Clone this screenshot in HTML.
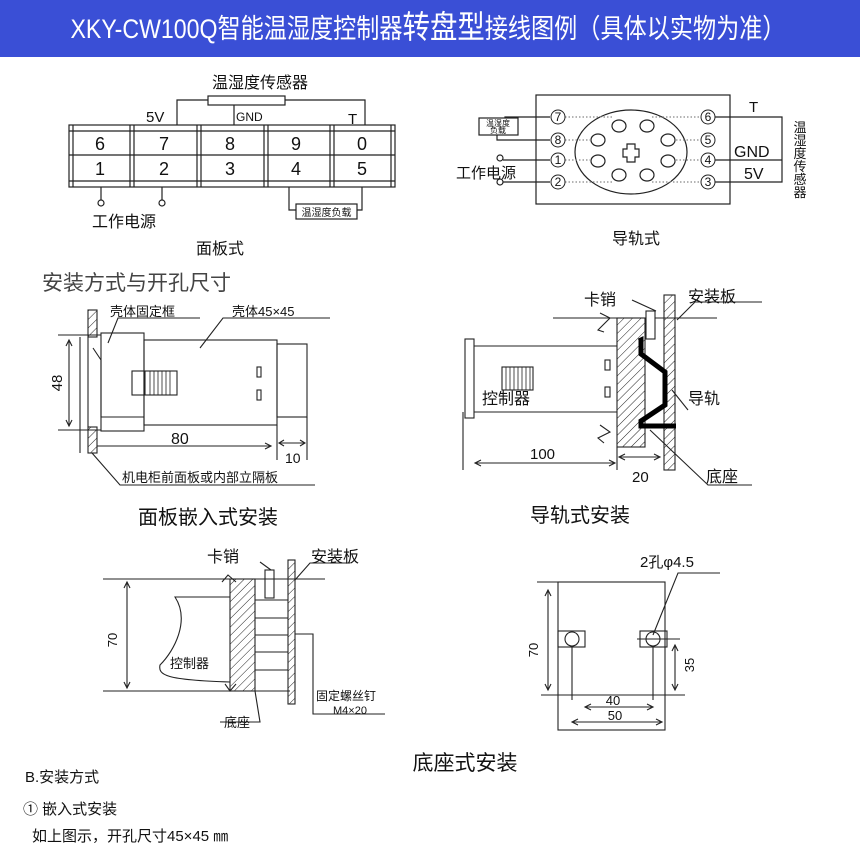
<!DOCTYPE html>
<html><head><meta charset="utf-8"><style>
html,body{margin:0;padding:0;background:#fff}
svg{display:block}
text{font-family:"Liberation Sans","Noto Sans CJK SC",sans-serif;fill:#111}
</style></head><body>
<svg width="860" height="859" viewBox="0 0 860 859" xmlns="http://www.w3.org/2000/svg">
<defs>
<pattern id="h" width="6" height="6" patternUnits="userSpaceOnUse" patternTransform="rotate(45)"><line x1="0" y1="0" x2="0" y2="6" stroke="#222" stroke-width="1"/></pattern>
</defs>
<rect x="0" y="0" width="860" height="57" fill="#3a4fd6"/>
<text x="428" y="38" text-anchor="middle" font-size="27" style="fill:#fff" textLength="715" lengthAdjust="spacingAndGlyphs">XKY-CW100Q智能温湿度控制器<tspan font-size="32">转盘型</tspan>接线图例（具体以实物为准）</text>

<g stroke="#222" fill="none" stroke-width="1.2">
<rect x="69" y="125" width="326" height="62"/>
<line x1="69" y1="131" x2="395" y2="131"/><line x1="69" y1="155" x2="395" y2="155"/><line x1="69" y1="181" x2="395" y2="181"/>
<line x1="73" y1="125" x2="73" y2="187"/><line x1="391" y1="125" x2="391" y2="187"/>
<line x1="130" y1="125" x2="130" y2="187"/><line x1="134" y1="125" x2="134" y2="187"/>
<line x1="197" y1="125" x2="197" y2="187"/><line x1="201" y1="125" x2="201" y2="187"/>
<line x1="264" y1="125" x2="264" y2="187"/><line x1="268" y1="125" x2="268" y2="187"/>
<line x1="330" y1="125" x2="330" y2="187"/><line x1="334" y1="125" x2="334" y2="187"/>
<rect x="208" y="96" width="77" height="9"/>
<polyline points="208,100 177,100 177,125"/><polyline points="285,100 365,100 365,125"/>
<line x1="234" y1="105" x2="234" y2="125"/>
<line x1="101" y1="187" x2="101" y2="200"/><circle cx="101" cy="203" r="3"/>
<line x1="162" y1="187" x2="162" y2="200"/><circle cx="162" cy="203" r="3"/>
<polyline points="289,187 289,210 296,210"/><polyline points="362,187 362,210 357,210"/>
<rect x="296" y="204" width="61" height="15"/>

<rect x="536" y="95" width="194" height="109"/>
<ellipse cx="631" cy="152" rx="56" ry="42"/>
<g>
<ellipse cx="619" cy="126" rx="7" ry="6"/><ellipse cx="647" cy="126" rx="7" ry="6"/>
<ellipse cx="598" cy="140" rx="7" ry="6"/><ellipse cx="668" cy="140" rx="7" ry="6"/>
<ellipse cx="598" cy="161" rx="7" ry="6"/><ellipse cx="668" cy="161" rx="7" ry="6"/>
<ellipse cx="619" cy="175" rx="7" ry="6"/><ellipse cx="647" cy="175" rx="7" ry="6"/>
<path d="M627,144 h8 v5 h4 v8 h-4 v5 h-8 v-5 h-4 v-8 h4 z"/>
</g>
<g stroke-dasharray="1.5,2" stroke="#888">
<line x1="565" y1="117" x2="612" y2="117"/><line x1="565" y1="140" x2="590" y2="140"/>
<line x1="565" y1="160" x2="590" y2="160"/><line x1="565" y1="182" x2="612" y2="182"/>
<line x1="652" y1="117" x2="701" y2="117"/><line x1="676" y1="140" x2="701" y2="140"/>
<line x1="676" y1="160" x2="701" y2="160"/><line x1="652" y1="182" x2="701" y2="182"/>
</g>
<polyline points="715,117 782,117 782,182 715,182"/><line x1="715" y1="160" x2="782" y2="160"/>
<rect x="479" y="118" width="39" height="17"/>
<polyline points="550,117 505,117 505,118"/><polyline points="550,140 497,140 497,135"/>
<circle cx="500" cy="158" r="3"/><circle cx="500" cy="182" r="3"/>
<line x1="503" y1="160" x2="550" y2="160"/><line x1="503" y1="182" x2="550" y2="182"/>
</g>
<g font-size="12" text-anchor="middle" fill="#111">
<circle cx="558" cy="117" r="7" fill="#fff" stroke="#222"/><text x="558" y="121">7</text>
<circle cx="558" cy="140" r="7" fill="#fff" stroke="#222"/><text x="558" y="144">8</text>
<circle cx="558" cy="160" r="7" fill="#fff" stroke="#222"/><text x="558" y="164">1</text>
<circle cx="558" cy="182" r="7" fill="#fff" stroke="#222"/><text x="558" y="186">2</text>
<circle cx="708" cy="117" r="7" fill="#fff" stroke="#222"/><text x="708" y="121">6</text>
<circle cx="708" cy="140" r="7" fill="#fff" stroke="#222"/><text x="708" y="144">5</text>
<circle cx="708" cy="160" r="7" fill="#fff" stroke="#222"/><text x="708" y="164">4</text>
<circle cx="708" cy="182" r="7" fill="#fff" stroke="#222"/><text x="708" y="186">3</text>
</g>
<g font-size="18" text-anchor="middle">
<text x="100" y="150">6</text><text x="164" y="150">7</text><text x="230" y="150">8</text><text x="296" y="150">9</text><text x="362" y="150">0</text>
<text x="100" y="175">1</text><text x="164" y="175">2</text><text x="230" y="175">3</text><text x="296" y="175">4</text><text x="362" y="175">5</text>
</g>
<text x="260" y="88" font-size="16" text-anchor="middle">温湿度传感器</text>
<text x="146" y="122" font-size="15">5V</text>
<text x="236" y="121" font-size="12">GND</text>
<text x="348" y="124" font-size="15">T</text>
<text x="92" y="227" font-size="16">工作电源</text>
<text x="326.5" y="216" font-size="10" text-anchor="middle">温湿度负载</text>
<text x="220" y="254" font-size="16" text-anchor="middle">面板式</text>
<text x="498" y="126" font-size="8" text-anchor="middle">温湿度</text>
<text x="498" y="133" font-size="8" text-anchor="middle">负载</text>
<text x="456" y="178" font-size="15">工作电源</text>
<text x="749" y="112" font-size="15">T</text>
<text x="734" y="157" font-size="16">GND</text>
<text x="744" y="179" font-size="16">5V</text>
<g font-size="13" text-anchor="middle"><text x="800" y="132">温</text><text x="800" y="145">湿</text><text x="800" y="158">度</text><text x="800" y="171">传</text><text x="800" y="184">感</text><text x="800" y="197">器</text></g>
<text x="636" y="244" font-size="16" text-anchor="middle">导轨式</text>

<text x="42" y="290" font-size="21" style="fill:#444" font-family="Liberation Serif,Noto Serif CJK SC,serif">安装方式与开孔尺寸</text>
<g stroke="#222" fill="none" stroke-width="1.1">
<rect x="88" y="310" width="9" height="27" fill="url(#h)"/>
<rect x="88" y="427" width="9" height="26" fill="url(#h)"/>
<line x1="88" y1="337" x2="88" y2="427"/><line x1="80" y1="337" x2="80" y2="453"/>
<line x1="58" y1="335" x2="101" y2="335"/><line x1="58" y1="430" x2="101" y2="430"/>
<line x1="69" y1="340" x2="69" y2="426"/><path d="M66,346 L69,340 L72,346 M66,420 L69,426 L72,420"/>
<rect x="101" y="333" width="43" height="98"/>
<polyline points="93,348 101,360 101,417 144,417"/>
<rect x="144" y="340" width="133" height="85"/>
<rect x="277" y="344" width="30" height="73"/>
<rect x="132" y="371" width="45" height="24"/><line x1="145" y1="371" x2="145" y2="395"/>
<g stroke-width="0.8"><line x1="150" y1="371" x2="150" y2="395"/><line x1="154" y1="371" x2="154" y2="395"/><line x1="158" y1="371" x2="158" y2="395"/><line x1="162" y1="371" x2="162" y2="395"/><line x1="166" y1="371" x2="166" y2="395"/><line x1="170" y1="371" x2="170" y2="395"/></g>
<rect x="257" y="367" width="4" height="10"/><rect x="257" y="390" width="4" height="10"/>
<polyline points="108,343 118,318 200,318"/><polyline points="200,348 223,318 330,318"/>
<line x1="97" y1="446" x2="271" y2="446"/><path d="M265,443 L271,446 L265,449"/>
<line x1="277" y1="425" x2="277" y2="460"/><line x1="307" y1="417" x2="307" y2="460"/>
<line x1="279" y1="443" x2="305" y2="443"/><path d="M284,440 L279,443 L284,446 M300,440 L305,443 L300,446"/>
<polyline points="92,453 120,485 315,485"/>

<rect x="465" y="339" width="9" height="79"/>
<line x1="474" y1="346" x2="617" y2="346"/><line x1="474" y1="412" x2="617" y2="412"/>
<rect x="502" y="367" width="31" height="23"/>
<g stroke-width="0.8"><line x1="506" y1="367" x2="506" y2="390"/><line x1="510" y1="367" x2="510" y2="390"/><line x1="514" y1="367" x2="514" y2="390"/><line x1="518" y1="367" x2="518" y2="390"/><line x1="522" y1="367" x2="522" y2="390"/><line x1="526" y1="367" x2="526" y2="390"/><line x1="530" y1="367" x2="530" y2="390"/></g>
<rect x="605" y="360" width="5" height="10"/><rect x="605" y="387" width="5" height="10"/>
<rect x="617" y="318" width="28" height="129" fill="url(#h)"/>
<rect x="664" y="295" width="11" height="175" fill="url(#h)"/>
<line x1="553" y1="318" x2="717" y2="318"/>
<rect x="646" y="311" width="9" height="28" fill="#fff"/>
<polyline points="600,313 610,318 598,330 604,332" /><polyline points="600,425 610,432 598,438 604,443"/>
<path d="M639,341 L641,340 L641,354 L665,372 L665,405 L641,421 L641,426 L676,426" stroke="#000" stroke-width="5" fill="none"/>
<line x1="463" y1="412" x2="463" y2="470"/>
<line x1="475" y1="463" x2="615" y2="463"/><path d="M481,460 L475,463 L481,466 M609,460 L615,463 L609,466"/>
<line x1="617" y1="447" x2="617" y2="470"/>
<line x1="619" y1="457" x2="660" y2="457"/><path d="M625,454 L619,457 L625,460 M654,454 L660,457 L654,460"/>
<polyline points="632,300 656,311"/><polyline points="762,302 695,302 677,320"/>
<polyline points="672,390 688,410"/>
<polyline points="650,430 708,485 752,485"/>

<line x1="103" y1="579" x2="325" y2="579"/><line x1="103" y1="691" x2="290" y2="691"/>
<line x1="127" y1="582" x2="127" y2="688"/><path d="M124,588 L127,582 L130,588 M124,682 L127,688 L130,682"/>
<rect x="230" y="579" width="25" height="112" fill="url(#h)"/>
<rect x="288" y="560" width="7" height="144" fill="url(#h)"/>
<path d="M230,597 L175,597 C190,620 175,650 160,665 C158,675 165,680 230,682"/>
<polyline points="222,582 228,575 236,582"/>
<polyline points="225,684 230,691 236,684"/>
<rect x="265" y="570" width="9" height="28"/>
<path d="M255,600 h33 M255,618 h33 M255,635 h33 M255,652 h33 M255,670 h33"/>
<polyline points="295,634 313,634 313,714 385,714"/>
<polyline points="255,691 260,722 220,722"/>
<polyline points="260,562 271,570"/><polyline points="350,563 310,563 295,580"/>

<rect x="558" y="582" width="107" height="148" fill="none"/>
<line x1="537" y1="582" x2="558" y2="582"/><line x1="541" y1="695" x2="685" y2="695"/>
<line x1="548" y1="590" x2="548" y2="690"/><path d="M545,596 L548,590 L551,596 M545,684 L548,690 L551,684"/>
<rect x="558" y="631" width="27" height="16"/><circle cx="572" cy="639" r="7"/>
<rect x="640" y="631" width="27" height="16"/><circle cx="653" cy="639" r="7"/>
<line x1="637" y1="639" x2="680" y2="639"/>
<line x1="572" y1="646" x2="572" y2="700"/><line x1="653" y1="646" x2="653" y2="700"/>
<line x1="675" y1="645" x2="675" y2="690"/><path d="M672,651 L675,645 L678,651 M672,684 L675,690 L678,684"/>
<line x1="585" y1="707" x2="653" y2="707"/><path d="M591,704 L585,707 L591,710 M647,704 L653,707 L647,710"/>
<line x1="572" y1="722" x2="662" y2="722"/><path d="M578,719 L572,722 L578,725 M656,719 L662,722 L656,725"/>
<polyline points="653,635 678,573 720,573"/>
</g>
<g font-size="13">
<text x="110" y="316">壳体固定框</text><text x="232" y="316">壳体45×45</text>
<text x="171" y="444" font-size="16">80</text><text x="285" y="463" font-size="14">10</text>
<text x="122" y="482">机电柜前面板或内部立隔板</text>
</g>
<text x="62" y="383" font-size="15" transform="rotate(-90 62 383)" text-anchor="middle">48</text>
<text x="208" y="524" font-size="20" text-anchor="middle">面板嵌入式安装</text>
<g font-size="16">
<text x="584" y="305">卡销</text><text x="688" y="302">安装板</text>
<text x="482" y="404">控制器</text><text x="688" y="404">导轨</text>
<text x="706" y="482">底座</text>
<text x="530" y="459" font-size="15">100</text><text x="632" y="482" font-size="15">20</text>
</g>
<text x="580" y="522" font-size="20" text-anchor="middle">导轨式安装</text>
<g font-size="16"><text x="207" y="562">卡销</text><text x="311" y="562">安装板</text></g>
<text x="170" y="668" font-size="13">控制器</text>
<text x="224" y="727" font-size="13">底座</text>
<text x="316" y="700" font-size="12">固定螺丝钉</text>
<text x="333" y="714" font-size="11">M4×20</text>
<text x="117" y="640" font-size="13" transform="rotate(-90 117 640)" text-anchor="middle">70</text>
<text x="538" y="650" font-size="13" transform="rotate(-90 538 650)" text-anchor="middle">70</text>
<text x="694" y="665" font-size="13" transform="rotate(-90 694 665)" text-anchor="middle">35</text>
<text x="613" y="705" font-size="13" text-anchor="middle">40</text>
<text x="615" y="720" font-size="13" text-anchor="middle">50</text>
<text x="640" y="567" font-size="15">2孔φ4.5</text>
<text x="465" y="770" font-size="21" text-anchor="middle">底座式安装</text>
<text x="25" y="782" font-size="15">B.安装方式</text>
<text x="23" y="814" font-size="15">① 嵌入式安装</text>
<text x="32" y="841" font-size="15">如上图示，开孔尺寸45×45 ㎜</text>
</svg>
</body></html>
